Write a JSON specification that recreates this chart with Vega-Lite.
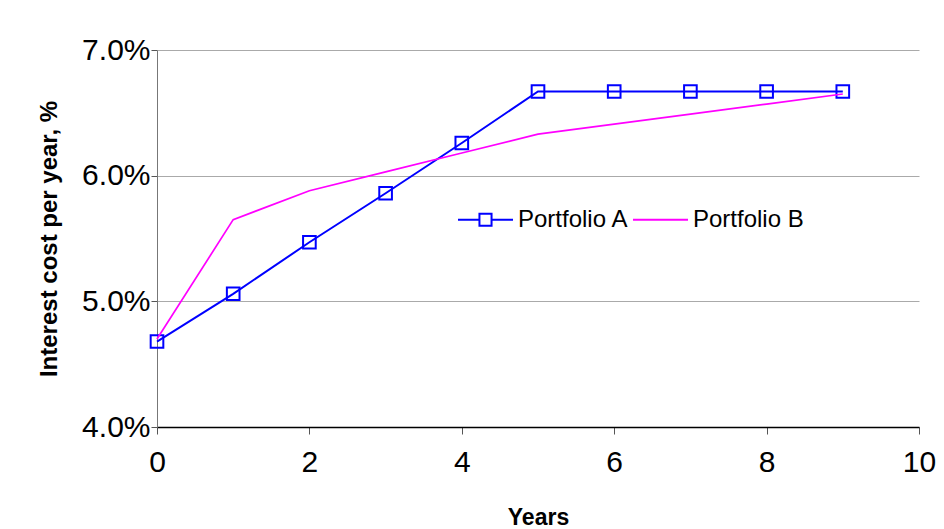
{
  "$schema": "https://vega.github.io/schema/vega-lite/v6.json",
  "width": 762,
  "height": 377,
  "autosize": {"type": "none"},
  "padding": {"left": 157, "top": 50, "right": 25, "bottom": 102},
  "background": "white",
  "config": {
    "font": "Liberation Sans",
    "view": {"stroke": null},
    "axis": {"labelFont": "Liberation Sans", "titleFont": "Liberation Sans"}
  },
  "data": {
    "values": [
      {"year": 0, "rate": 0.0468, "series": "Portfolio A"},
      {"year": 1, "rate": 0.0506, "series": "Portfolio A"},
      {"year": 2, "rate": 0.0547, "series": "Portfolio A"},
      {"year": 3, "rate": 0.0586, "series": "Portfolio A"},
      {"year": 4, "rate": 0.0626, "series": "Portfolio A"},
      {"year": 5, "rate": 0.0667, "series": "Portfolio A"},
      {"year": 6, "rate": 0.0667, "series": "Portfolio A"},
      {"year": 7, "rate": 0.0667, "series": "Portfolio A"},
      {"year": 8, "rate": 0.0667, "series": "Portfolio A"},
      {"year": 9, "rate": 0.0667, "series": "Portfolio A"},
      {"year": 0, "rate": 0.0470, "series": "Portfolio B"},
      {"year": 1, "rate": 0.0565, "series": "Portfolio B"},
      {"year": 2, "rate": 0.0588, "series": "Portfolio B"},
      {"year": 3, "rate": 0.0603, "series": "Portfolio B"},
      {"year": 4, "rate": 0.0618, "series": "Portfolio B"},
      {"year": 5, "rate": 0.0633, "series": "Portfolio B"},
      {"year": 6, "rate": 0.0641, "series": "Portfolio B"},
      {"year": 7, "rate": 0.0649, "series": "Portfolio B"},
      {"year": 8, "rate": 0.0657, "series": "Portfolio B"},
      {"year": 9, "rate": 0.0665, "series": "Portfolio B"}
    ]
  },
  "encoding": {
    "x": {
      "field": "year", "type": "quantitative",
      "scale": {"domain": [0, 10], "nice": false},
      "axis": {
        "title": "Years", "values": [0, 2, 4, 6, 8, 10], "grid": false,
        "labelFontSize": 30, "labelColor": "black", "labelPadding": 13, "labelFlush": false, "labelOverlap": false,
        "tickSize": 7, "tickColor": "#555", "domainColor": "black", "domainWidth": 1.5,
        "titleFontSize": 23, "titleFontWeight": "bold", "titleColor": "black", "titlePadding": 29
      }
    },
    "y": {
      "field": "rate", "type": "quantitative",
      "scale": {"domain": [0.04, 0.07], "nice": false},
      "axis": {
        "title": "Interest cost per year, %", "values": [0.04, 0.05, 0.06, 0.07], "format": ".1%",
        "grid": true, "gridColor": "#aaaaaa", "gridWidth": 1,
        "labelFontSize": 30, "labelColor": "black", "labelPadding": 1,
        "tickSize": 6, "tickColor": "#555", "domainColor": "#777",
        "titleFontSize": 24, "titleFontWeight": "bold", "titleColor": "black", "titlePadding": 20
      }
    },
    "color": {
      "field": "series", "type": "nominal",
      "scale": {"domain": ["Portfolio A", "Portfolio B"], "range": ["#0000ff", "#ff00ff"]},
      "legend": {
        "title": null, "orient": "none", "legendX": 300, "legendY": 141,
        "direction": "horizontal", "labelFontSize": 24, "labelColor": "black",
        "labelOffset": 4, "columnPadding": 0, "symbolSize": 3025, "symbolStrokeWidth": 2,
        "symbolFillColor": "transparent",
        "encode": {
          "symbols": {
            "update": {
              "shape": {"signal": "datum.value === 'Portfolio A' ? 'M-1,0H-0.22M0.22,0H1M-0.22,-0.22H0.22V0.22H-0.22Z' : 'M-1,0H1'"},
              "fill": {"value": "transparent"},
              "strokeWidth": {"value": 2}
            }
          }
        }
      }
    }
  },
  "layer": [
    {
      "mark": {"type": "line", "strokeWidth": 2},
      "transform": [{"filter": "datum.series === 'Portfolio A'"}]
    },
    {
      "mark": {"type": "point", "shape": "square", "filled": false, "size": 160, "strokeWidth": 2, "opacity": 1},
      "transform": [{"filter": "datum.series === 'Portfolio A'"}]
    },
    {
      "mark": {"type": "line", "strokeWidth": 1.7},
      "transform": [{"filter": "datum.series === 'Portfolio B'"}]
    }
  ]
}
